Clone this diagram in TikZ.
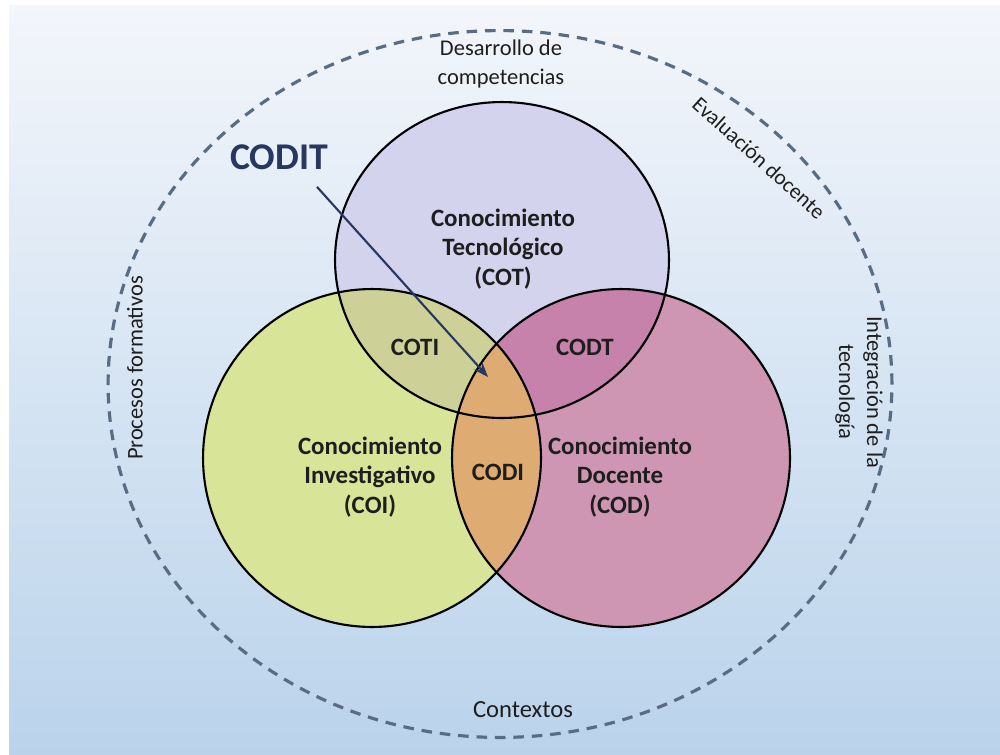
\documentclass[tikz,border=0pt]{standalone}
\usepackage{fontspec}
\setmainfont{Carlito}
\usetikzlibrary{positioning,arrows.meta}
\definecolor{bgtop}{RGB}{243,246,251}
\definecolor{bgbot}{RGB}{186,211,235}
\definecolor{cotcol}{RGB}{212,211,238}
\definecolor{coicol}{RGB}{216,228,152}
\definecolor{codcol}{RGB}{206,150,178}
\definecolor{coticol}{RGB}{205,209,152}
\definecolor{codtcol}{RGB}{198,130,170}
\definecolor{codicol}{RGB}{222,172,115}
\definecolor{dashcol}{RGB}{88,108,132}
\definecolor{navy}{RGB}{40,55,95}
\definecolor{ink}{RGB}{30,30,30}
\def\rs{3.38cm}
\tikzstyle{inner}=[font=\bfseries\fontsize{14.2}{17}\selectfont,align=center,text=ink]
\tikzstyle{outer}=[font=\fontsize{12.8}{16}\selectfont,align=center,text=ink]
\tikzstyle{border}=[draw=black,line width=1.2pt]
\newcommand{\newLabel}[4]{\node[#3](#1) at #4 {#2};}

\begin{document}
\begin{tikzpicture}[x=0.02cm,y=-0.02cm,
    >=Stealth,semithick
    ]
    \useasboundingbox (0,0) rectangle (1000,754);
    \shade[top color=bgtop,bottom color=bgbot] (9,5) rectangle (1000,754);
    \draw[dashcol,line width=1.8pt,dash pattern=on 6pt off 4.5pt]
      (500,384) ellipse [x radius=7.84cm,y radius=7.07cm];
    % circle centres
    \coordinate (cot) at (502,260);
    \coordinate (coi) at (372,458);
    \coordinate (cod) at (621,458);
    \fill[cotcol] (cot) ellipse [x radius=3.34cm,y radius=3.16cm];
    \fill[coicol] (coi) circle (\rs);
    \fill[codcol] (cod) circle (\rs);
    \begin{scope}
      \clip (cot) ellipse [x radius=3.34cm,y radius=3.16cm];
      \fill[coticol] (coi) circle (\rs);
      \fill[codtcol] (cod) circle (\rs);
    \end{scope}
    \begin{scope}
      \clip (coi) circle (\rs);
      \fill[codicol] (cod) circle (\rs);
    \end{scope}
    \draw[border] (cot) ellipse [x radius=3.34cm,y radius=3.16cm];
    \draw[border] (coi) circle (\rs);
    \draw[border] (cod) circle (\rs);
    % labels
    \newLabel{lcot}{Conocimiento\\Tecnológico\\(COT)}{inner}{(503,249)}
    \newLabel{lcoi}{Conocimiento\\Investigativo\\(COI)}{inner}{(370,477)}
    \newLabel{lcod}{Conocimiento\\Docente\\(COD)}{inner}{(620,477)}
    \newLabel{coti}{COTI}{inner}{(415,347)}
    \newLabel{codt}{CODT}{inner}{(585,347)}
    \newLabel{codi}{CODI}{inner}{(498,472)}
    \newLabel{codit}{CODIT}{inner,font=\bfseries\fontsize{21.5}{24}\selectfont,text=navy}{(279,157)}
    \coordinate (tip) at (488,377);
    \draw[->,navy,line width=1.2pt] ([xshift=0.76cm,yshift=-0.22cm]codit.south) -- (tip);
    % outer labels
    \newLabel{desarrollo}{Desarrollo de\\competencias}{outer,font=\fontsize{12.8}{16.4}\selectfont}{(501,64)}
    \newLabel{evaluacion}{Evaluación docente}{outer,font=\fontsize{12.3}{15}\selectfont,rotate=-42}{(759,158)}
    \newLabel{integracion}{Integración de la\\tecnología}{outer,rotate=-90}{(859,392)}
    \newLabel{procesos}{Procesos formativos}{outer,rotate=90}{(135,368)}
    \newLabel{contextos}{Contextos}{outer,font=\fontsize{14}{17}\selectfont}{(523,710)}
  \end{tikzpicture}
\end{document}
